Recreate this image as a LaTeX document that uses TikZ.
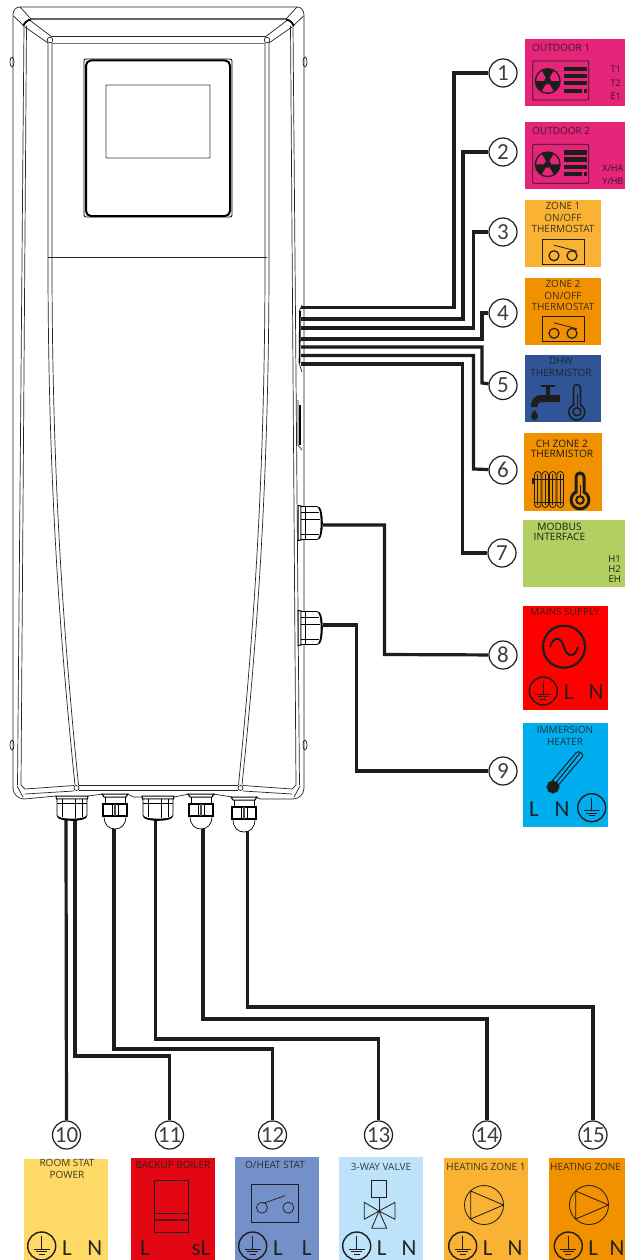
\documentclass[tikz,border=0pt]{standalone}
\usepackage{fontspec}
\setmainfont{Open Sans}
\newfontfamily\lnfont{Carlito}
\definecolor{cpink}{HTML}{E6247A}
\definecolor{corange}{HTML}{F9B233}
\definecolor{cdeep}{HTML}{F29100}
\definecolor{cblue}{HTML}{2F5597}
\definecolor{cgreen}{HTML}{B2CF62}
\definecolor{cred}{HTML}{FF0000}
\definecolor{ccyan}{HTML}{00AEEF}
\definecolor{cyellow}{HTML}{FFD966}
\definecolor{cboiler}{HTML}{E30613}
\definecolor{cslate}{HTML}{7390C9}
\definecolor{csky}{HTML}{BDE3FA}
\definecolor{ink}{HTML}{1D1D1B}
\tikzset{
  cab/.style={draw=black!85,line width=0.7pt,fill=none},
  cabg/.style={draw=black!60,line width=1.4pt},
  wire/.style={draw=ink,line width=3.2pt,line join=miter},
  numc/.style={circle,draw=ink,line width=1.2pt,fill=white,minimum size=28pt,inner sep=0pt,font=\lnfont\fontsize{23}{23}\selectfont,text=ink!85},
  panel/.style={draw=none,inner sep=0pt},
  lab/.style={inner sep=0pt,font=\fontsize{10}{11.2}\selectfont,text=ink,text opacity=.85,align=center},
  labt/.style={inner sep=0pt,font=\fontsize{10.2}{10}\selectfont,text=ink,align=center},
  term/.style={inner sep=0pt,font=\fontsize{9}{9}\selectfont,text=ink},
  ln/.style={inner sep=0pt,font=\lnfont\fontsize{23}{23}\selectfont,text=ink,text opacity=.95},
  earthsym/.pic={
    \draw[ink,line width=1.4pt] (0,0) circle (14);
    \draw[ink,line width=.7pt] (0,-10) -- (0,3);
    \draw[ink,line width=.7pt] (-8,3) -- (8,3) (-5.5,5.5) -- (5.5,5.5) (-3,8) -- (3,8);
  },
  outunit/.pic={
    \draw[ink,line width=.8pt,rounded corners=1pt] (-15,-20) rectangle (41,19);
    \fill[ink] (0,0) circle (13);
    \foreach \a in {90,210,330}{
      \fill[cpink] (0,0) -- (\a-30:11.5) arc[start angle=\a-30,end angle=\a+30,radius=11.5] -- cycle;
    }
    \fill[ink] (0,0) circle (3.5);
    \fill[ink] (16,-14) rectangle (39,-9.5);
    \fill[ink] (16,-7) rectangle (39,-2.5);
    \fill[ink] (16,0.5) rectangle (39,4.5);
    \fill[ink] (16,8) rectangle (34,12);
    \fill[ink] (36,8) rectangle (39.5,12);
  },
  thermostat/.pic={
    \draw[ink,line width=1.3pt] (-21,-12.5) rectangle (21,12.5);
    \draw[ink,line width=1.2pt] (-9.5,4) circle (5) (8.5,4) circle (5);
    \draw[ink,line width=.8pt] (-9.5,-6.5) -- (13.5,-.5);
  },
  pumpsym/.pic={
    \draw[ink,line width=.8pt] (0,0) circle (19.5);
    \draw[ink,line width=.8pt,line join=round] (-13.3,-14) -- (19.5,0) -- (-13.3,14) -- cycle;
  },
  glandbig/.pic={
    \draw[black,line width=1pt,fill=white] (-16,0) -- (16,0) -- (15.5,3) -- (-15.5,3) -- cycle;
    \draw[black,line width=.8pt,fill=white] (-15,3) -- (15,3) -- (15,19) .. controls (15,22) and (10,23) .. (0,23) .. controls (-10,23) and (-15,22) .. (-15,19) -- cycle;
    \draw[black,line width=.7pt] (-10,3) -- (-10,21) (3,3) -- (3,22) (10,3) -- (10,21);
    \draw[black,line width=.6pt] (-15,7) -- (15,7);
    \draw[black,line width=1.6pt] (-14,21) .. controls (-10,25) and (10,25) .. (14,21);
  },
  glandsmall/.pic={
    \draw[black,line width=1pt,fill=white] (-13,0) -- (13,0) -- (11,3) -- (-11,3) -- cycle;
    \draw[black,line width=.7pt] (-10,3) -- (-10,10) (10,3) -- (10,10);
    \draw[black,line width=.7pt,fill=white] (-11,22) .. controls (-11,31) and (-6,35) .. (0,35) .. controls (6,35) and (11,31) .. (11,22);
    \draw[black,line width=1.3pt,fill=white] (-12,10) rectangle (12,22);
    \draw[black,line width=.7pt] (-3,10) -- (-3,22) (3,10) -- (3,22);
    \fill[black!70] (-1,10) rectangle (1,22);
  },
  halfcab/.pic={
    \draw[cab] (158.5,7) -- (20,7) .. controls (16,7) and (13,10) .. (13,15) -- (13,788) .. controls (13,794) and (18,799) .. (24,799);
    \draw[cab] (20,7) -- (31,19) (13.5,16) -- (24,26) (28,19) -- (52,37) (25,27) -- (48,43);
    \draw[cabg] (31,19) -- (158.5,19);
    \draw[black,line width=1.8pt] (23.5,26) .. controls (24,23) and (27,20) .. (31,19.5);
    \draw[cab] (52,36.5) -- (158.5,36.5);
    \draw[black!55,line width=.7pt] (52,43.5) -- (158.5,43.5);
    \draw[cab] (50,40) circle (2.8);
    \draw[cab] (24,26) -- (17.5,785);
    \draw[cab] (26.5,26) -- (21,785);
    \draw[cab] (48,43) -- (48,260) .. controls (48,480) and (60,640) .. (75,785);
    \draw[cab] (52,43) -- (52,260) .. controls (52,480) and (64,640) .. (78.5,785);
    \draw[cab] (25,789) -- (74,785.5) (25,794) -- (74,791);
    \draw[cab] (17,786) -- (23,797) (21,785) -- (25,789);
    \draw[cab] (76.5,788) circle (2.5);
    \draw[cab] (79,785) -- (158.5,785);
    \draw[cab] (79,790.5) -- (158.5,790.5);
    \draw[cab] (12,62) ellipse (2 and 5);
    \draw[cab] (12,745) ellipse (2 and 5);
  }
}
\begin{document}
\begin{tikzpicture}[x=1pt,y=-1pt]
\useasboundingbox (0,0) rectangle (625,1260);
\fill[white] (0,0) rectangle (625,1260);

% cabinet
\pic at (0,0) {halfcab};
\pic[xscale=-1] at (317,0) {halfcab};
\draw[black,line width=.8pt,rounded corners=2pt] (84,59) rectangle (232,217);
\draw[black,line width=2pt,rounded corners=5pt] (86,60.5) rectangle (230,216);
\draw[black!75,line width=.8pt,rounded corners=.8pt] (106,85) rectangle (210,158);
\draw[cab] (48,257) -- (267,257);
\draw[cab] (24,799) -- (56,796) (88,796) -- (103,794) (127,794) -- (134,797) -- (142,797) (174,797) -- (189,794) (213,794) -- (232,797) (256,797) -- (260,799) -- (293,799);
\draw[black,line width=1.6pt] (300,311) -- (299.5,363);
\draw[cab] (302,305) -- (299,312) (299,363) -- (302,372);
\draw[black,line width=1.6pt] (300,405) -- (300,445);
\draw[cab] (298,400) -- (298,445) -- (302,450);

% terminal boxes
\node[panel,fill=cpink,minimum width=100pt,minimum height=66.7pt,anchor=north west] (b1) at (525,39) {};
\node[panel,fill=cpink,minimum width=100pt,minimum height=66.7pt,anchor=north west] (b2) at (525,122.3) {};
\node[panel,fill=corange,minimum width=76pt,minimum height=66.7pt,anchor=north west] (b3) at (525,200) {};
\node[panel,fill=cdeep,minimum width=76pt,minimum height=66.7pt,anchor=north west] (b4) at (525,278) {};
\node[panel,fill=cblue,minimum width=76pt,minimum height=66.7pt,anchor=north west] (b5) at (525,355) {};
\node[panel,fill=cdeep,minimum width=77.7pt,minimum height=77.7pt,anchor=north west] (b6) at (524,433) {};
\node[panel,fill=cgreen,minimum width=102pt,minimum height=66.7pt,anchor=north west] (b7) at (523,520) {};
\node[panel,fill=cred,minimum width=85.3pt,minimum height=104.3pt,anchor=north west] (b8) at (522.7,605.7) {};
\node[panel,fill=ccyan,minimum width=85.3pt,minimum height=104.3pt,anchor=north west] (b9) at (522.7,722.7) {};
\node[panel,fill=cyellow,minimum width=84pt,minimum height=101pt,anchor=north west] (b10) at (24,1159) {};
\node[panel,fill=cboiler,minimum width=84pt,minimum height=102pt,anchor=north west] (b11) at (131,1158) {};
\node[panel,fill=cslate,minimum width=84pt,minimum height=103pt,anchor=north west] (b12) at (235,1157) {};
\node[panel,fill=csky,minimum width=84pt,minimum height=103pt,anchor=north west] (b13) at (339,1157) {};
\node[panel,fill=corange,minimum width=84pt,minimum height=102pt,anchor=north west] (b14) at (444,1158) {};
\node[panel,fill=cdeep,minimum width=76pt,minimum height=102pt,anchor=north west] (b15) at (549,1158) {};

% number circles
\node[numc] (n1) at (503,73) {1};
\node[numc] (n2) at (503,152) {2};
\node[numc] (n3) at (503,232) {3};
\node[numc] (n4) at (503,313) {4};
\node[numc] (n5) at (503,385.5) {5};
\node[numc] (n6) at (503,470) {6};
\node[numc] (n7) at (502,553) {7};
\node[numc] (n8) at (503,655) {8};
\node[numc] (n9) at (503,771) {9};
\node[numc] (n10) at (66.5,1135) {10};
\node[numc] (n11) at (169.5,1135) {11};
\node[numc] (n12) at (272.5,1135) {12};
\node[numc] (n13) at (378.5,1135) {13};
\node[numc] (n14) at (487,1135) {14};
\node[numc] (n15) at (593,1135) {15};

% wires
\coordinate (w1) at (301,307.5);
\coordinate (w2) at (301,319);
\coordinate (w3) at (301,328);
\coordinate (w4) at (301,339);
\coordinate (w5) at (301,347);
\coordinate (w6) at (301,355.5);
\coordinate (w7) at (301,364);
\coordinate (w8) at (323,525);
\coordinate (w9) at (323,625);
\coordinate (w10) at (66,820);
\coordinate (w11) at (75,820);
\coordinate (w12) at (114,827);
\coordinate (w13) at (155.5,820);
\coordinate (w14) at (203,827);
\coordinate (w15) at (247.5,830);
\draw[wire] (w1) -- (454,307.5) -- (454,73) -- (n1);
\draw[wire] (w2) -- (463,319) -- (463,152) -- (n2);
\draw[wire] (w3) -- (473.5,328) -- (473.5,232) -- (n3);
\draw[wire] (w4) -- (482,339) -- (482,313) -- (n4);
\draw[wire] (w5) -- (482,347) -- (482,383) -- (n5);
\draw[wire] (w6) -- (473.5,355.5) -- (473.5,469) -- (n6);
\draw[wire] (w7) -- (462.5,364) -- (462.5,553) -- (n7);
\draw[wire] (w8) -- (384.5,525) -- (384.5,654.5) -- (n8);
\draw[wire] (w9) -- (356.5,625) -- (356.5,771) -- (n9);
\draw[wire] (w10) -- (n10);
\draw[wire] (w11) -- (75,1056) -- (169.5,1056) -- (n11);
\draw[wire] (w12) -- (114,1049) -- (272.5,1049) -- (n12);
\draw[wire] (w13) -- (155.5,1039) -- (378.5,1039) -- (n13);
\draw[wire] (w14) -- (203,1019) -- (487,1019) -- (n14);
\draw[wire] (w15) -- (247.5,1007) -- (593,1007) -- (n15);

% glands
\pic at (72,796) {glandbig};
\pic at (115,794) {glandsmall};
\pic at (158,796) {glandbig};
\pic at (201,794) {glandsmall};
\pic at (244,797) {glandsmall};
\pic[rotate=90,xscale=1.1] at (298,523) {glandbig};
\pic[rotate=90,xscale=1.1] at (298,628) {glandbig};

% texts: right column
\node[lab,anchor=west] (t1) at (532,48) {OUTDOOR 1};
\node[lab,anchor=west] (t2) at (532,130.5) {OUTDOOR 2};
\node[term,anchor=east] (t1a) at (621,69) {T1};
\node[term,anchor=east] (t1b) at (621,83) {T2};
\node[term,anchor=east] (t1c) at (621,96) {E1};
\node[term,anchor=east] (t2a) at (623.5,168.5) {X/HA};
\node[term,anchor=east] (t2b) at (623.5,181.5) {Y/HB};
\pic at (547.7,81) {outunit};
\pic at (547.7,164.3) {outunit};
\node[lab,anchor=north] (t3) at (563,202.5) {ZONE 1\\ON/OFF\\THERMOSTAT};
\pic at (563.5,251.7) {thermostat};
\node[lab,anchor=north] (t4) at (563,280.5) {ZONE 2\\ON/OFF\\THERMOSTAT};
\pic at (563.5,329.3) {thermostat};
\node[lab,anchor=north] (t5) at (561,357.5) {DHW\\THERMISTOR};
\node[labt,anchor=north] (t6) at (562,440) {CH ZONE 2\\THERMISTOR};
\node[labt,anchor=north] (t7) at (559.5,523) {MODBUS\\[-.5pt]INTERFACE};
\node[term,anchor=east,font=\fontsize{9.5}{9.5}\selectfont] (t7a) at (621,559) {H1};
\node[term,anchor=east,font=\fontsize{9.5}{9.5}\selectfont] (t7b) at (621,569) {H2};
\node[term,anchor=east,font=\fontsize{9.5}{9.5}\selectfont] (t7c) at (621,579) {EH};
\node[lab,anchor=center] (t8) at (565,611.5) {MAINS SUPPLY};
\node[lab,anchor=north] (t9) at (565,726.5) {IMMERSION\\HEATER};

% DHW icon
\fill[ink] (541,384.5) rectangle (555,387);
\fill[ink] (546,385) rectangle (550,396);
\fill[ink] (560,395) -- (560,402) -- (541,402) .. controls (538,402) and (537.5,404) .. (537.5,407) -- (531,407) .. controls (531,399) and (535,395) .. (541,395) -- cycle;
\fill[ink] (534.5,410) .. controls (537,413) and (538,415) .. (538,416.5) arc[start angle=0,end angle=180,radius=3.5] .. controls (531,415) and (532,413) .. (534.5,410) -- cycle;
\draw[ink,line width=1.6pt] (573.5,405) -- (573.5,388) arc[start angle=180,end angle=360,radius=3.5] -- (580.5,405) arc[start angle=-62,end angle=242,radius=8] -- cycle;
\draw[ink,line width=1.6pt] (577,411.7) circle (4);
\draw[ink,line width=.8pt] (577,394) -- (577,408);

% CH icon
\foreach \x in {534.5,542,549.5,557}{
  \draw[ink,line width=.8pt,rounded corners=3.2pt] (\x,471.5) rectangle (\x+6.5,507.5);
  \draw[ink,line width=.5pt] (\x+3.2,474) -- (\x+3.2,505);
}
\fill[ink] (532,478) rectangle (534.5,484);
\draw[ink,line width=.5pt] (534,479) -- (564,479) (534,502) -- (564,502);
\draw[ink,line width=3pt] (576,492) -- (576,477) arc[start angle=180,end angle=360,radius=4] -- (584,492) arc[start angle=-63,end angle=243,radius=8.9] -- cycle;
\draw[ink,line width=2pt] (580,500) circle (3.8);
\draw[ink,line width=1pt] (580,485) -- (580,496);

% mains icon
\draw[ink,line width=2.2pt] (564,646.7) circle (21);
\draw[ink,line width=2pt] (550,647) .. controls (553,636) and (561,636) .. (564,647) .. controls (567,658) and (575,658) .. (578,647);
\pic at (543.3,691) {earthsym};
\node[ln] (l8) at (568.7,692) {L};
\node[ln] (m8) at (596,692) {N};

% immersion icon
\draw[ink,line width=1pt,rounded corners=3pt] (549.5,784) -- (578,750.5) -- (584,755) -- (555,789);
\draw[ink,line width=1pt] (552.5,787) -- (580,753);
\fill[ink] (553,787) circle (6);
\foreach \a in {0,45,...,315}{\fill[ink] (553,787) ++(\a:5.5) circle (1.3);}
\node[ln] (l9) at (534,809) {L};
\node[ln] (m9) at (562,809) {N};
\pic at (591.7,807.7) {earthsym};

% bottom row
\node[lab,anchor=north] (t10) at (67,1159.5) {ROOM STAT\\POWER};
\pic at (41.7,1246) {earthsym};
\node[ln] (l10) at (67,1248) {L};
\node[ln] (m10) at (94.7,1248) {N};

\node[lab,anchor=center] (t11) at (173,1165) {BACKUP BOILER};
\draw[ink,line width=1pt] (154.3,1180.7) rectangle (188.7,1232);
\draw[ink,line width=.6pt] (154.3,1213.3) -- (188.7,1213.3);
\draw[ink!70!cboiler,line width=1.6pt] (154.3,1220) -- (188.7,1220);
\node[ln] (l11) at (145,1248) {L};
\node[ln] (m11) at (201,1248) {sL};

\node[lab,anchor=center] (t12) at (275,1165) {O/HEAT STAT};
\draw[ink,line width=.9pt] (251.7,1184) rectangle (298.3,1222.7);
\draw[ink,line width=.7pt] (262,1207.7) circle (5.5) (288.3,1207.7) circle (5.5);
\draw[ink,line width=.7pt] (263.3,1203.3) -- (285,1195.7);
\pic at (252.7,1246) {earthsym};
\node[ln] (l12) at (278,1248) {L};
\node[ln] (m12) at (306.7,1248) {L};

\node[lab,anchor=center] (t13) at (381,1167) {3-WAY VALVE};
\draw[ink,line width=.8pt] (371.7,1180.7) rectangle (386.7,1197.7);
\draw[ink,line width=.8pt] (379,1197.7) -- (379,1211);
\draw[ink,line width=.8pt,line join=round] (379,1211) -- (364.3,1202.3) -- (364.3,1219.3) -- cycle (379,1211) -- (395,1202.3) -- (395,1219.3) -- cycle (379,1211) -- (371.7,1228.3) -- (386.7,1228.3) -- cycle;
\pic at (356.7,1246) {earthsym};
\node[ln] (l13) at (381.7,1248) {L};
\node[ln] (m13) at (409,1248) {N};

\node[lab,anchor=center] (t14) at (486,1167) {HEATING ZONE 1};
\pic at (484,1205) {pumpsym};
\pic at (462.7,1246) {earthsym};
\node[ln] (l14) at (487.7,1248) {L};
\node[ln] (m14) at (515,1248) {N};

\node[lab,anchor=west] (t15) at (550,1167) {HEATING ZONE};
\pic at (589,1205) {pumpsym};
\pic at (568.3,1246) {earthsym};
\node[ln] (l15) at (593.3,1248) {L};
\node[ln] (m15) at (617,1248) {N};
\end{tikzpicture}
\end{document}
